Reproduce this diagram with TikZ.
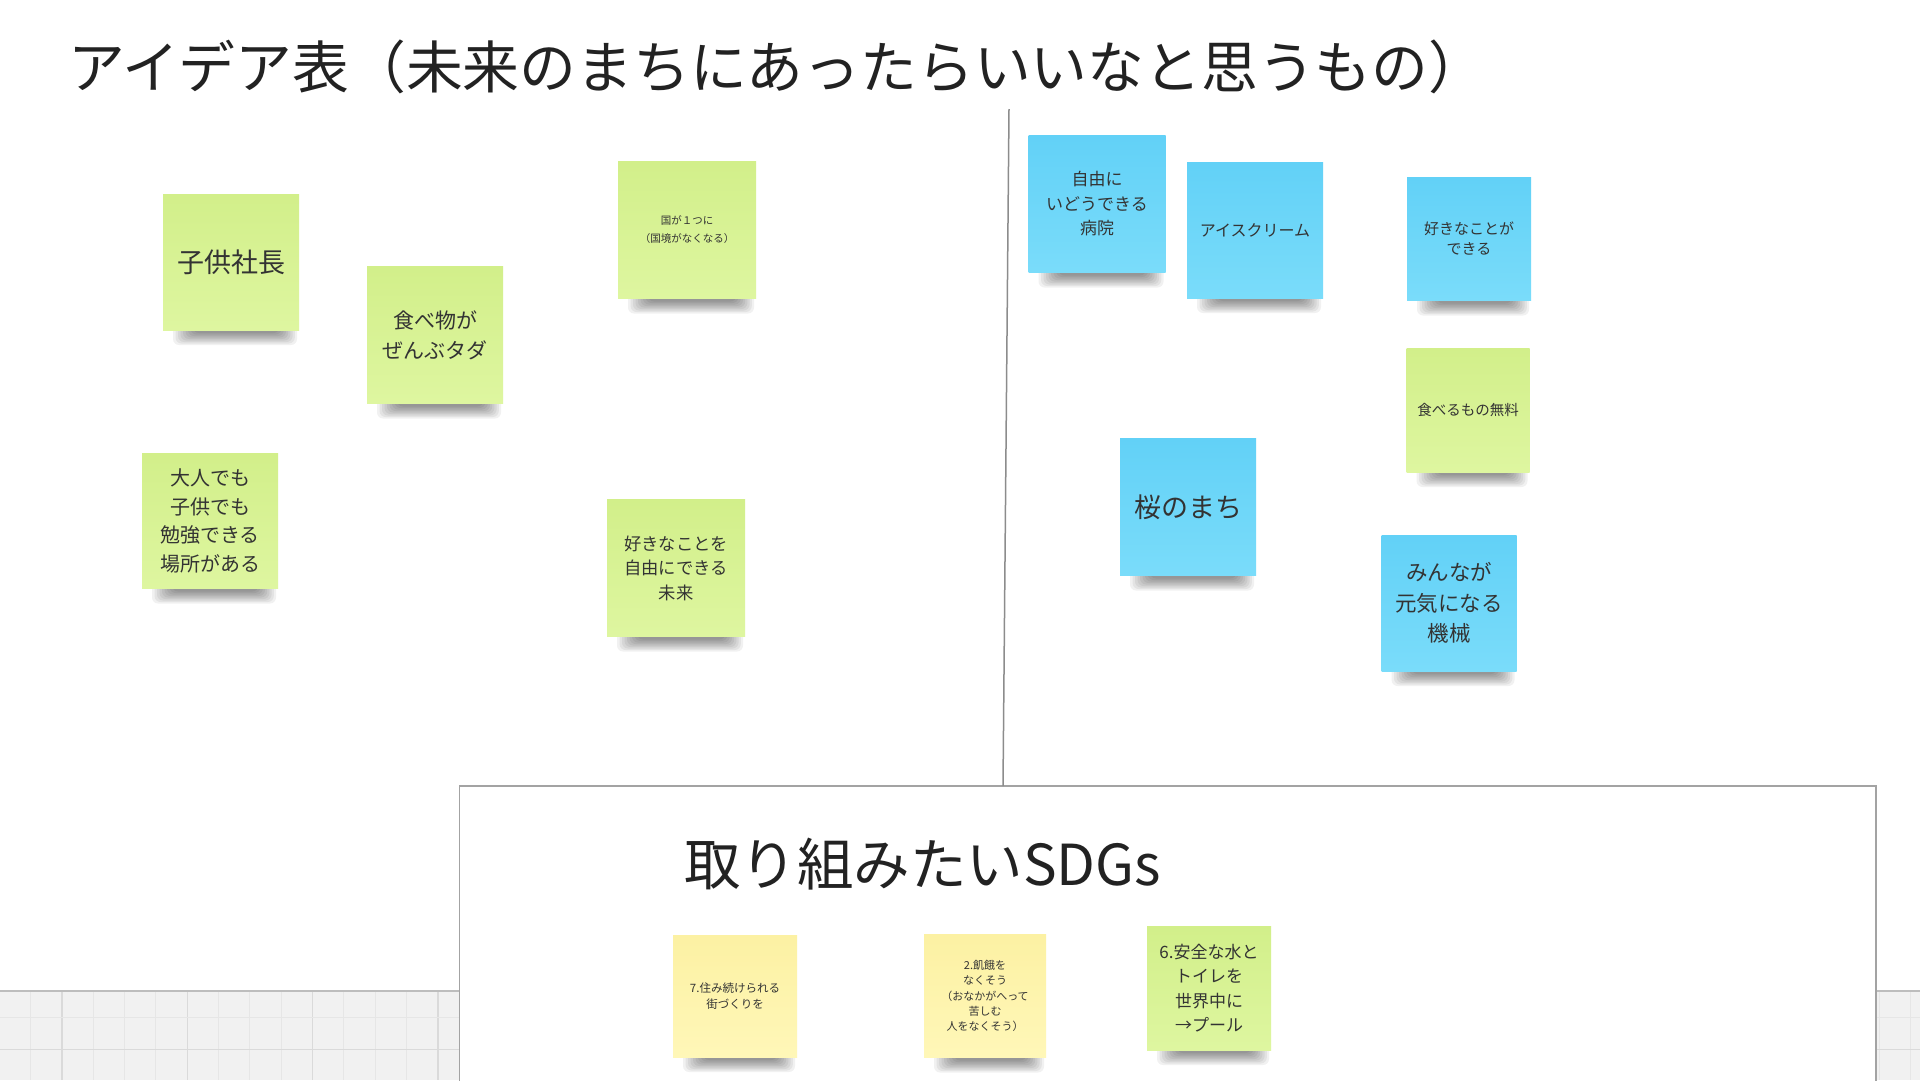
\documentclass[tikz,border=0pt]{standalone}
\usepackage{fontspec}
\setmainfont{Noto Sans CJK JP}
\usetikzlibrary{calc}
\definecolor{gtop}{HTML}{D2EF8A}
\definecolor{gbot}{HTML}{DEF6A0}
\definecolor{btop}{HTML}{62D1F7}
\definecolor{bbot}{HTML}{7ADCFA}
\definecolor{ytop}{HTML}{FCF1A3}
\definecolor{ybot}{HTML}{FFF7B8}
\definecolor{ink}{HTML}{333333}
\definecolor{titleink}{HTML}{222222}
\definecolor{gridbg}{HTML}{F1F1F1}
\definecolor{gridminor}{HTML}{E6E6E6}
\definecolor{gridmajor}{HTML}{DADADA}
\definecolor{gridedge}{HTML}{BDBDBD}
\definecolor{boxline}{HTML}{A3A3A3}
\definecolor{divline}{HTML}{8C8C8C}
\tikzset{
  notebase/.style={inner sep=0pt, align=center, text=ink},
  greennote/.style={notebase, top color=gtop, bottom color=gbot},
  bluenote/.style={notebase, top color=btop, bottom color=bbot},
  yellownote/.style={notebase, top color=ytop, bottom color=ybot},
  notesh/.style={fill=black, opacity=0.055, rounded corners=6pt},
  heading/.style={anchor=west, inner sep=0pt, text=titleink},
}
% #1 name, #2 cx, #3 cy, #4 w, #5 h, #6 style, #7 font size, #8 leading, #9 text
\newcommand{\stickynote}[9]{%
  \foreach \k in {0,...,8}{%
    \fill[notesh] ({#2-#4/2+10+2.5*\k},{#3+#5/2-8}) rectangle ({#2+#4/2-2-2.2*\k},{#3+#5/2+15-1.5*\k});
  }%
  \node[#6, minimum width=#4, minimum height=#5, font={\fontsize{#7}{#8}\selectfont}] (#1) at (#2,#3) {#9};
}
\begin{document}
\begin{tikzpicture}[x=1pt,y=-1pt]
\useasboundingbox (0,0) rectangle (1920,1080);
\fill[white] (0,0) rectangle (1920,1080);
% grid strip at the bottom
\begin{scope}
  \clip (0,991) rectangle (1920,1080);
  \fill[gridbg] (0,991) rectangle (1920,1080);
  \foreach \i in {0,...,62}{
    \pgfmathtruncatemacro{\m}{mod(\i,4)}
    \ifnum\m=2
      \draw[gridmajor, line width=1.2pt] ({-0.7+31.33*\i},991) -- ({-0.7+31.33*\i},1080);
    \else
      \draw[gridminor, line width=1pt] ({-0.7+31.33*\i},991) -- ({-0.7+31.33*\i},1080);
    \fi
  }
  \draw[gridminor, line width=1pt] (0,1017.3) -- (1920,1017.3);
  \draw[gridmajor, line width=1.2pt] (0,1049.3) -- (1920,1049.3);
\end{scope}
\draw[gridedge, line width=2pt] (0,991) -- (1920,991);
% SDGs box
\draw[boxline, line width=1.8pt, fill=white] (459.5,786) rectangle (1876,1095);
% divider
\draw[divline, line width=1.5pt] (1009,109) -- (1003,786);
% titles
\node[heading, font={\fontsize{56.8}{62}\selectfont}] (title) at (68,67) {アイデア表（未来のまちにあったらいいなと思うもの）};
\node[heading, font={\fontsize{56.5}{60}\selectfont}] (sdgtitle) at (684,864) {取り組みたいSDGs};
% left notes
\stickynote{kid}{231}{262}{136}{136}{greennote}{27}{32}{子供社長}
\stickynote{food}{435}{335}{136}{137}{greennote}{21}{30}{食べ物が\\ぜんぶタダ}
\stickynote{country}{687}{230}{138}{137}{greennote}{10.5}{18}{国が１つに\\（国境がなくなる）}
\stickynote{adult}{210}{521}{136}{135}{greennote}{20}{28.5}{大人でも\\子供でも\\勉強できる\\場所がある}
\stickynote{future}{676}{568}{138}{137}{greennote}{17.3}{24.5}{好きなことを\\自由にできる\\未来}
% right notes
\stickynote{hospital}{1097}{204}{137}{137}{bluenote}{17}{24.5}{自由に\\いどうできる\\病院}
\stickynote{icecream}{1255}{230}{136}{136}{bluenote}{16}{20}{アイスクリーム}
\stickynote{likecan}{1469}{239}{124}{123}{bluenote}{15}{20}{好きなことが\\できる}
\stickynote{freefood}{1468}{410}{123}{124}{greennote}{14.5}{20}{食べるもの無料}
\stickynote{sakura}{1188}{507}{136}{137}{bluenote}{27}{32}{桜のまち}
\stickynote{genki}{1449}{603}{135}{136}{bluenote}{21.5}{30.5}{みんなが\\元気になる\\機械}
% SDG notes
\stickynote{sdgseven}{735}{996}{124}{122}{yellownote}{11.5}{16.7}{7.住み続けられる\\街づくりを}
\stickynote{sdgtwo}{985}{996}{122}{123}{yellownote}{11}{15.3}{2.飢餓を\\なくそう\\（おなかがへって\\苦しむ\\人をなくそう）}
\stickynote{sdgsix}{1209}{988}{124}{124}{greennote}{17}{24.3}{6.安全な水と\\トイレを\\世界中に\\→プール}
\end{tikzpicture}
\end{document}
